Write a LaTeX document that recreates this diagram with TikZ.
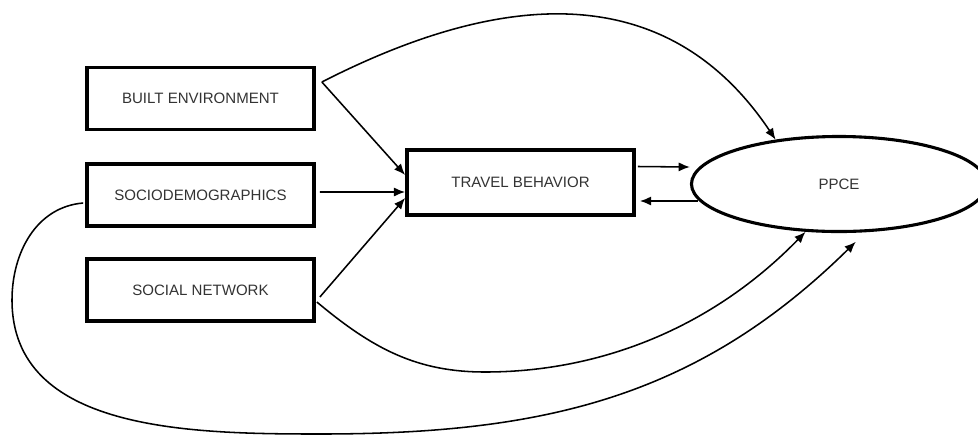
\documentclass[tikz,border=0pt]{standalone}
\usepackage{fontspec}
\setmainfont{Liberation Sans}
\usetikzlibrary{calc,shapes.geometric,arrows.meta}
\begin{document}
\begin{tikzpicture}[x=0.025cm,y=-0.025cm,
  label font/.style={font=\fontsize{10.7}{13}\selectfont, text=black!80},
  box/.style={draw, line width=2.6pt, minimum width=5.675cm, minimum height=1.55cm,
    inner sep=0pt, label font},
  oval/.style={draw, ellipse, line width=2.2pt, minimum width=7.375cm,
    minimum height=2.375cm, inner sep=0pt, label font},
  arr/.style={-{Latex[length=8pt,width=6.5pt]}, line width=1.1pt}]

\path[use as bounding box, clip] (0,0) rectangle (978,436);

% factors and the outcome
\node[box] (be) at (200.5,98.5) {BUILT ENVIRONMENT};
\node[box] (sd) at (200.5,195) {SOCIODEMOGRAPHICS};
\node[box] (sn) at (200.5,290) {SOCIAL NETWORK};
\node[box, minimum height=1.625cm] (tb) at (520.5,182.5) {TRAVEL BEHAVIOR};
\node[oval] (ppce) at (839,184) {PPCE};

% straight paths into travel behaviour
\draw[arr] ($(be.east)+(6,-16.5)$) -- ($(tb.west)+(0,-7.5)$);
\draw[arr] ($(sd.east)+(4,-3)$) -- ($(tb.west)+(0,9.5)$);
\draw[arr] ($(sn.east)+(4,7)$) -- ($(tb.west)+(0,15.5)$);

% two-way link between travel behaviour and PPCE
\draw[arr] ($(tb.east)+(2,-16)$) -- ($(ppce.west)+(0,-17)$);
\draw[arr] ($(ppce.west)+(8,17)$) -- ($(tb.east)+(4,18.5)$);

% direct effects on PPCE
\draw[arr] ($(be.east)+(6,-16.5)$) .. controls (461,11) and (652,-45) .. (ppce.145);
\draw[arr] ($(sn.east)+(1,12)$) .. controls (373,349) and (417,372) .. (485,372)
  .. controls (600,372) and (712,328) .. (ppce.-125);
\draw[arr] ($(sd.west)+(-2,8)$) .. controls (36,207) and (12,253) .. (12,300)
  .. controls (12,431) and (189,434) .. (320,434)
  .. controls (543,434) and (697,398) .. ($(ppce.-71)+(0,9)$);
\end{tikzpicture}
\end{document}
